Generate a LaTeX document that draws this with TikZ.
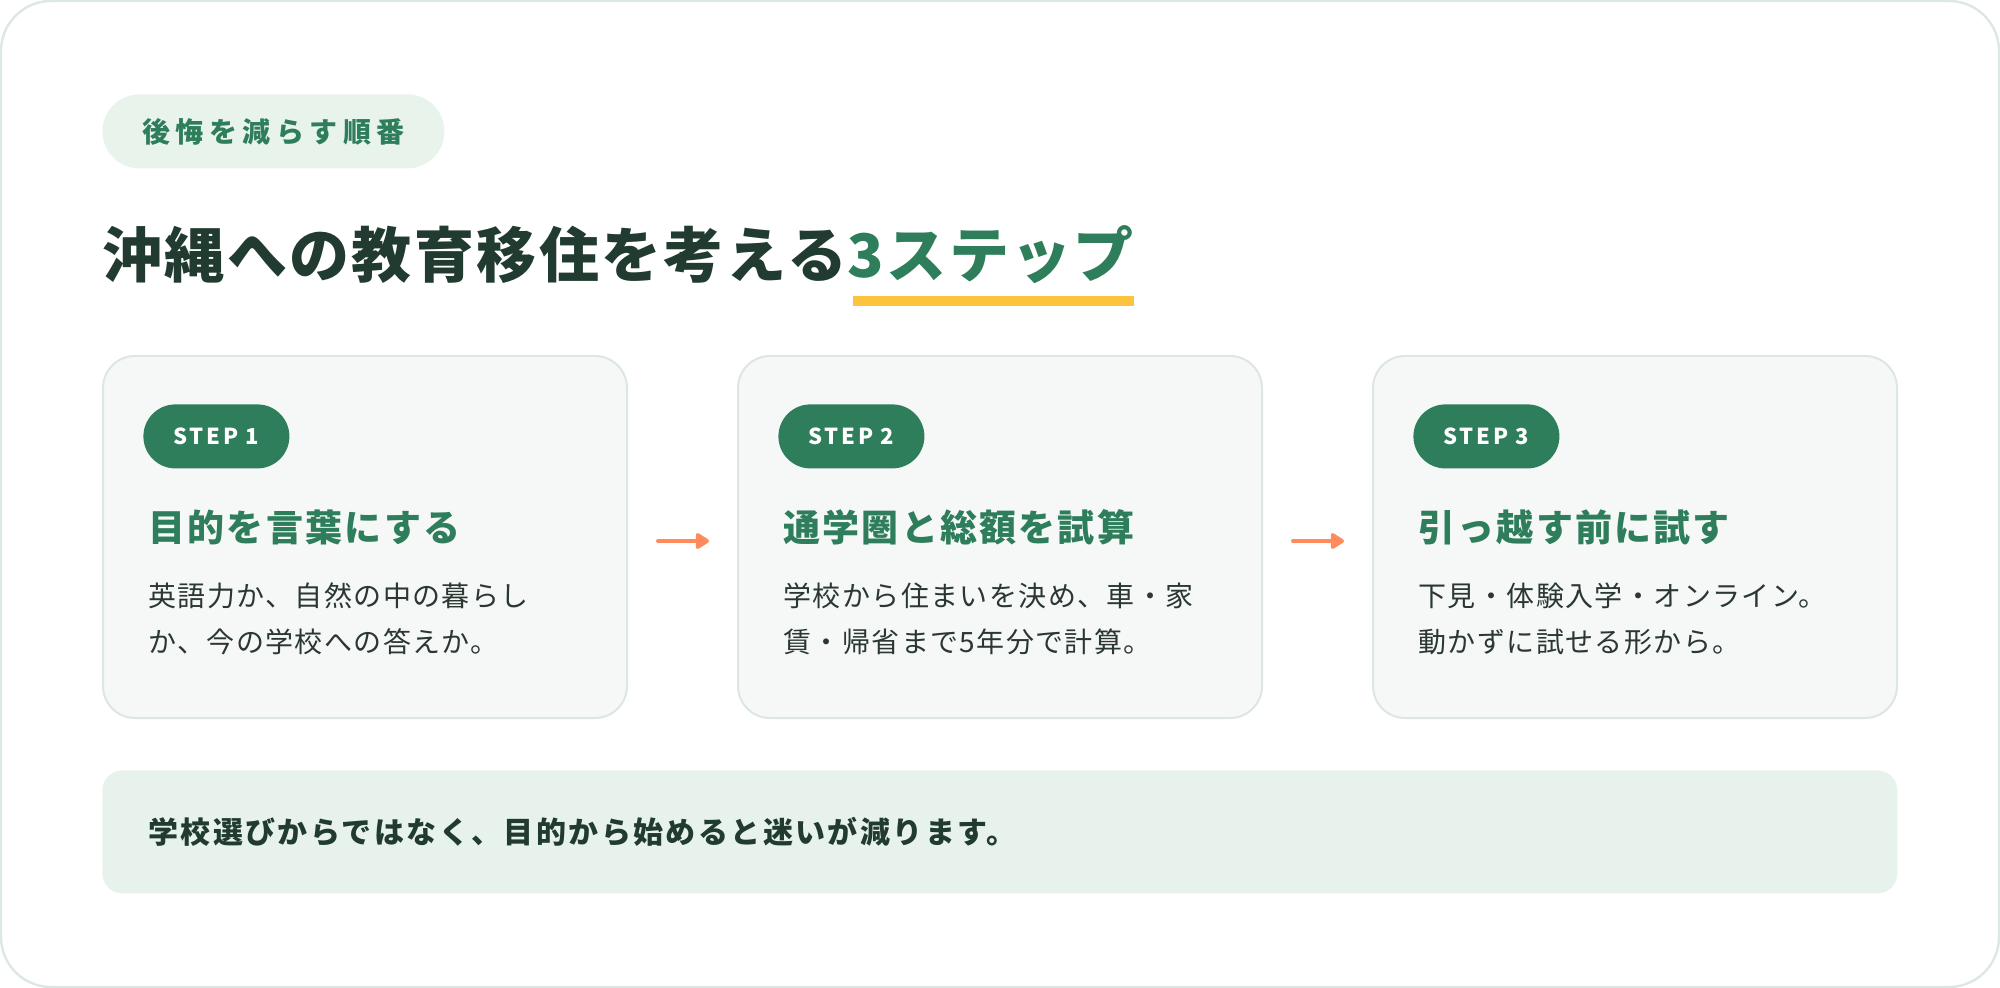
\documentclass[tikz,border=0pt]{standalone}
\usepackage{fontspec}
\setmainfont{Noto Sans CJK JP}
\usepackage{tikz}
\usetikzlibrary{arrows.meta,positioning,calc}
\definecolor{OkGreen}{HTML}{2E7D5B}
\definecolor{OkDark}{HTML}{213B30}
\definecolor{OkText}{HTML}{2B3832}
\definecolor{OkTagFill}{HTML}{E8F3EC}
\definecolor{OkCardFill}{HTML}{F6F8F7}
\definecolor{OkCardLine}{HTML}{DCE6E2}
\definecolor{OkFrame}{HTML}{DDE7E3}
\definecolor{OkArrow}{HTML}{FF8A5B}
\definecolor{OkYellow}{HTML}{FBC43C}
\definecolor{OkNoteFill}{HTML}{E8F2EC}
\tikzset{
    % Outer frame of the figure
    framebox/.style={
        draw=OkFrame,
        fill=white,
        line width=1.2pt,
        rounded corners=25pt
    },
    % Small tag above the title
    tagpill/.style={
        fill=OkTagFill,
        text=OkGreen,
        rounded corners=18.5pt,
        minimum width=171pt,
        minimum height=37pt,
        inner sep=0pt,
        font=\fontsize{14}{14}\selectfont\bfseries\addfontfeature{LetterSpace=20}
    },
    % Title text
    titletext/.style={
        inner sep=0pt,
        text=OkDark,
        font=\fontsize{30}{30}\selectfont\bfseries\addfontfeature{LetterSpace=4}
    },
    % Step card
    stepcard/.style={
        draw=OkCardLine,
        fill=OkCardFill,
        line width=1pt,
        rounded corners=16pt,
        minimum width=262pt,
        minimum height=181pt,
        inner sep=0pt
    },
    % Step badge
    stepbadge/.style={
        fill=OkGreen,
        text=white,
        rounded corners=16pt,
        minimum width=73pt,
        minimum height=32pt,
        inner sep=0pt,
        font=\fontsize{11}{11}\selectfont\bfseries\addfontfeature{LetterSpace=12}
    },
    % Step heading
    steptitle/.style={
        inner sep=0pt,
        text=OkGreen,
        font=\fontsize{18.5}{18.5}\selectfont\bfseries\addfontfeature{LetterSpace=6}
    },
    % Step body text
    stepbody/.style={
        inner sep=0pt,
        align=left,
        text=OkText,
        font=\fontsize{14}{23}\selectfont\addfontfeature{LetterSpace=5}
    },
    % Arrow between cards
    flowarrow/.style={
        -{Triangle[length=7.5pt,width=9pt,round]},
        line width=2pt,
        line cap=round,
        draw=OkArrow,
        shorten <=15pt,
        shorten >=14pt
    },
    % Bottom note
    notebanner/.style={
        fill=OkNoteFill,
        text=OkDark,
        rounded corners=10pt,
        minimum width=897.5pt,
        minimum height=61.5pt,
        text width=851.5pt,
        inner xsep=23pt,
        inner ysep=0pt,
        align=left,
        font=\fontsize{15}{15}\selectfont\bfseries\addfontfeature{LetterSpace=8}
    }
}
\begin{document}
\begin{tikzpicture}[x=0.5pt,y=-0.5pt]
    \useasboundingbox (0,0) rectangle (2000,988);
    \draw[framebox] (1,1) rectangle (1999,987);
    % tag and title
    \node[tagpill,anchor=north west] (tag) at (102,94) {後悔を減らす順番};
    \node[titletext,anchor=west] (t1) at (102,255) {沖縄への教育移住を考える};
    \node[titletext,text=OkGreen,anchor=west] (t2) at (t1.east) {3ステップ};
    \fill[OkYellow] (853,296) rectangle (1134,306);
    % the three steps
    \foreach \i/\x/\head/\body in {
        1/102/目的を言葉にする/{英語力か、自然の中の暮らし\\か、今の学校への答えか。},
        2/737/通学圏と総額を試算/{学校から住まいを決め、車・家\\賃・帰省まで5年分で計算。},
        3/1372/引っ越す前に試す/{下見・体験入学・オンライン。\\動かずに試せる形から。}}{
        \node[stepcard,anchor=north west] (c\i) at (\x,355) {};
        \node[stepbadge,anchor=north west] (b\i) at (\x+41,404) {STEP \i};
        \node[steptitle,anchor=west] (h\i) at (\x+46,527) {\head};
        \node[stepbody,anchor=west] (d\i) at (\x+46,619) {\body};
    }
    \draw[flowarrow] ([yshift=-2pt]c1.east) -- ([yshift=-2pt]c2.west);
    \draw[flowarrow] ([yshift=-2pt]c2.east) -- ([yshift=-2pt]c3.west);
    % bottom note
    \node[notebanner,anchor=north west] (note) at (102,770) {学校選びからではなく、目的から始めると迷いが減ります。};
\end{tikzpicture}
\end{document}
